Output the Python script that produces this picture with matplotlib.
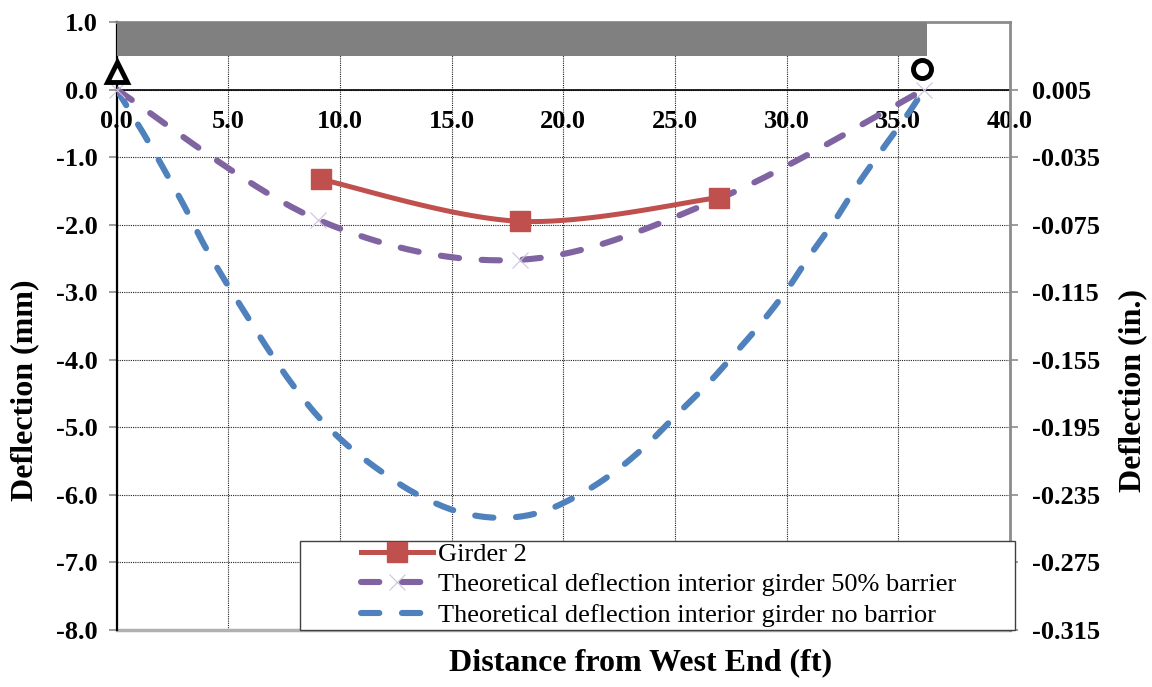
import numpy as np
import matplotlib
matplotlib.use("Agg")
import matplotlib.pyplot as plt
from matplotlib.patches import Rectangle
from matplotlib.lines import Line2D

# ---------------- data ----------------
girder2_x = [9.15, 18.05, 26.95]
girder2_y = [-1.33, -1.95, -1.60]

barrier50_x = [0.0, 9.03, 18.05, 27.0, 36.15]
barrier50_y = [0.0, -1.93, -2.52, -1.61, 0.0]

nobarrier_x = [0.0, 1.2, 2.15, 3.05, 3.9, 4.85, 5.85, 6.85, 7.9, 9.1, 10.45, 12.0,
               13.5, 15.3, 17.15, 18.95, 20.7, 22.25, 23.7, 25.05, 26.4, 27.6,
               28.85, 30.0, 31.05, 32.15, 33.15, 34.25, 35.35, 36.15]
nobarrier_y = [0.0, -0.65, -1.2, -1.74, -2.29, -2.83, -3.36, -3.88, -4.38, -4.87, -5.3, -5.69,
               -6.0, -6.25, -6.34, -6.26, -6.0, -5.67, -5.27, -4.82, -4.38, -3.94,
               -3.46, -2.97, -2.45, -1.94, -1.42, -0.9, -0.4, 0.0]

deck_span = [0.0, 36.3]
deck_band = [0.5, 1.0]
pin_support = (0.0, 0.26)
roller_support = (36.05, 0.31)

x_ticks = [0, 5, 10, 15, 20, 25, 30, 35, 40]
y_ticks_mm = [1, 0, -1, -2, -3, -4, -5, -6, -7, -8]
y_ticks_in = [0.005, -0.035, -0.075, -0.115, -0.155, -0.195, -0.235, -0.275, -0.315]

labels = ["Girder 2",
          "Theoretical deflection interior girder 50% barrier",
          "Theoretical deflection interior girder no barrior"]

RED = "#C0504D"
PURPLE = "#8064A2"
BLUE = "#4F81BD"
LAVENDER = "#CDC3DE"
GRAY = "#8C8C8C"


def smooth(x, y, n=40):
    """Excel-like smoothed line (Catmull-Rom Bezier) for rendering."""
    p = np.column_stack([x, y]).astype(float)
    xs, ys = [], []
    m = len(p)
    t = np.linspace(0, 1, n)[:, None]
    for i in range(m - 1):
        p0 = p[max(i - 1, 0)]
        p1 = p[i]
        p2 = p[i + 1]
        p3 = p[min(i + 2, m - 1)]
        c1 = p1 + (p2 - p0) / 6.0
        c2 = p2 - (p3 - p1) / 6.0
        b = ((1 - t) ** 3) * p1 + 3 * ((1 - t) ** 2) * t * c1 + 3 * (1 - t) * t ** 2 * c2 + t ** 3 * p2
        if i > 0:
            b = b[1:]
        xs.append(b[:, 0])
        ys.append(b[:, 1])
    return np.concatenate(xs), np.concatenate(ys)


plt.rcParams["font.family"] = ["Liberation Serif", "DejaVu Serif"]

W, H = 1152, 687
fig = plt.figure(figsize=(W / 100, H / 100), dpi=100)
L, R, T, B = 116.7, 1010, 22, 630
ax = fig.add_axes([L / W, 1 - B / H, (R - L) / W, (B - T) / H])

ax.set_xlim(0, 40)
ax.set_ylim(-8, 1)

# grid
ax.set_xticks(x_ticks)
ax.set_yticks(y_ticks_mm)
ax.grid(True, color="#222222", linestyle=(0, (1, 1)), linewidth=0.8)
ax.set_axisbelow(True)

# deck bar
ax.fill_between(deck_span, deck_band[0], deck_band[1], color="#808080", zorder=3, linewidth=0)

LW = 4.4
dash = (0, (3.0, 3.7))
bx, by = smooth(nobarrier_x, nobarrier_y, 12)
ax.plot(bx, by, color=BLUE, lw=LW, linestyle=dash, dash_capstyle="round", zorder=4)

px, py = smooth(barrier50_x, barrier50_y)
ax.plot(px, py, color=PURPLE, lw=LW, linestyle=dash, dash_capstyle="round", zorder=4)
ax.plot(barrier50_x, barrier50_y, linestyle="none", marker="x", ms=12, mew=0.8,
        color=LAVENDER, zorder=4, clip_on=False)

rx, ry = smooth(girder2_x, girder2_y)
ax.plot(rx, ry, color=RED, lw=3.6, solid_capstyle="round", zorder=5)
ax.plot(girder2_x, girder2_y, linestyle="none", marker="s", ms=14.5, color=RED, zorder=5)

# supports
ax.plot([pin_support[0]], [pin_support[1]], marker="^", ms=14, mfc="white", mec="black",
        mew=3.5, linestyle="none", clip_on=False, zorder=6)
ax.plot([roller_support[0]], [roller_support[1]], marker="o", ms=13, mfc="white", mec="black",
        mew=3.5, linestyle="none", clip_on=False, zorder=6)

# spines
ax.spines["bottom"].set_position(("data", 0))
ax.spines["bottom"].set_color("black")
ax.spines["bottom"].set_linewidth(1.2)
ax.spines["left"].set_color("black")
ax.spines["left"].set_linewidth(1.6)
ax.spines["top"].set_color(GRAY)
ax.spines["top"].set_linewidth(2)
ax.spines["right"].set_visible(False)
ax.axhline(-8, color="#B0B0B0", lw=2.5, zorder=2, clip_on=False)

TICK_FS = 19
ax.set_xticklabels([f"{v:.1f}" for v in x_ticks])
ax.set_yticklabels([f"{v:.1f}" for v in y_ticks_mm])
ax.tick_params(axis="x", length=0, pad=15, labelsize=TICK_FS)
ax.tick_params(axis="y", length=6, width=1.2, color=GRAY, pad=8, labelsize=TICK_FS)
for lab in ax.get_xticklabels() + ax.get_yticklabels():
    lab.set_fontweight("bold")

# right axis (inches)
ax2 = ax.twinx()
ax2.set_ylim(-0.315, 0.045)
ax2.set_yticks(y_ticks_in)
ax2.set_yticklabels([f"{v:.3f}" for v in y_ticks_in])
ax2.tick_params(axis="y", length=6, width=1.2, color=GRAY, pad=10, labelsize=TICK_FS)
for lab in ax2.get_yticklabels():
    lab.set_fontweight("bold")
for s in ["left", "top", "bottom"]:
    ax2.spines[s].set_visible(False)
ax2.spines["right"].set_color(GRAY)
ax2.spines["right"].set_linewidth(2)

# axis labels
LAB_FS = 23
fig.text(25 / W, 1 - 390 / H, "Deflection (mm)", rotation=90, ha="center", va="center",
         fontsize=LAB_FS, fontweight="bold")
fig.text(1133 / W, 1 - 391 / H, "Deflection (in.)", rotation=90, ha="center", va="center",
         fontsize=LAB_FS, fontweight="bold")
fig.text(641 / W, 1 - 663 / H, "Distance from West End (ft)", ha="center", va="center",
         fontsize=LAB_FS, fontweight="bold")

# legend
box = Rectangle((300 / W, 1 - 630 / H), (1015 - 300) / W, (630 - 541) / H,
                transform=fig.transFigure, facecolor="white", edgecolor="#404040",
                lw=1.0, zorder=7, clip_on=False)
ax2.add_patch(box)
handles = [
    Line2D([], [], color=RED, lw=3.6, marker="s", ms=14.5),
    Line2D([], [], color=PURPLE, lw=LW, linestyle=dash, dash_capstyle="round",
           marker="x", ms=12, mew=0.8, mec=LAVENDER),
    Line2D([], [], color=BLUE, lw=LW, linestyle=dash, dash_capstyle="round"),
]
leg = ax2.legend(handles, labels, loc="upper left", bbox_to_anchor=(358 / W, 1 - 540 / H),
                 bbox_transform=fig.transFigure, frameon=False, fontsize=19,
                 handlelength=2.75, handletextpad=0.2, labelspacing=0.26, borderpad=0.1,
                 borderaxespad=0)
leg.set_zorder(8)

fig.savefig("out.png", dpi=100)
